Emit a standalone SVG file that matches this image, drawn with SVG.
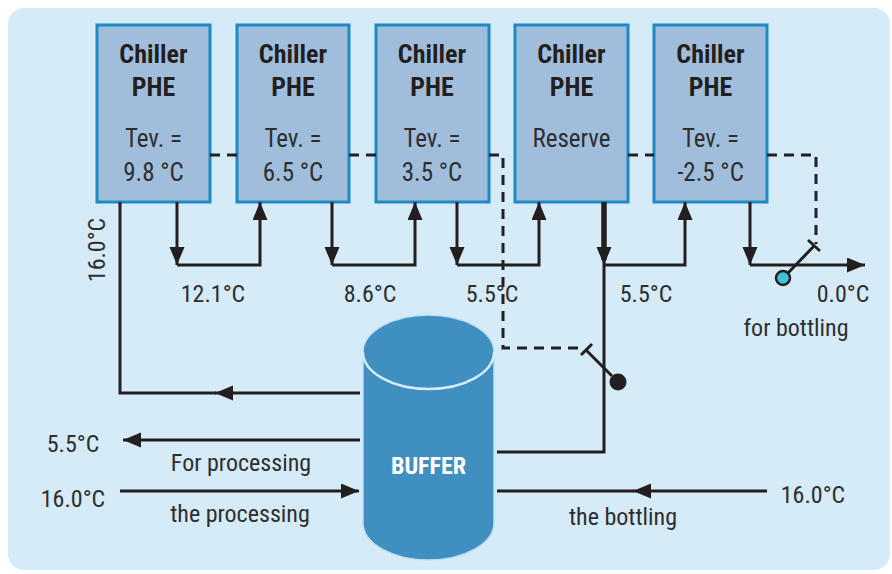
<svg xmlns="http://www.w3.org/2000/svg" width="892" height="574" viewBox="0 0 892 574">
  <style>
    .bg { fill: #d6ebf8; }
    .box { fill: #a0bedc; stroke: #1d8ac4; stroke-width: 3; }
    .t { font-family: "Liberation Sans Narrow", "Roboto Condensed", "DejaVu Sans Condensed", "Liberation Sans", sans-serif; font-stretch: condensed; fill: #2e2e2e; font-size: 24px; }
    .title { font-weight: bold; font-size: 26px; fill: #231f20; text-anchor: middle; }
    .sub { font-size: 25px; text-anchor: middle; }
    .mid { text-anchor: middle; }
    .pipe { fill: none; stroke: #231f20; stroke-width: 3; }
    .thick { fill: none; stroke: #231f20; stroke-width: 5.5; }
    .ctrl { fill: none; stroke: #231f20; stroke-width: 3; stroke-dasharray: 10 7; }
  </style>
  <defs>
    <marker id="arrow" markerUnits="userSpaceOnUse" markerWidth="20" markerHeight="16" refX="18" refY="7.5" orient="auto">
      <path d="M0,0 L18,7.5 L0,15 z" fill="#231f20"/>
    </marker>
  </defs>

  <!-- panel background -->
  <rect class="bg" x="8" y="8" width="882" height="562" rx="16"/>

  <!-- chiller plate heat exchangers -->
  <g id="chiller1">
    <rect class="box" x="97" y="25" width="113" height="177"/>
    <text class="t title" x="153.5" y="63">Chiller</text>
    <text class="t title" x="153.5" y="96">PHE</text>
    <text class="t sub" x="153.5" y="147">Tev. =</text>
    <text class="t sub" x="153.5" y="181">9.8 °C</text>
  </g>
  <g id="chiller2">
    <rect class="box" x="237" y="25" width="112" height="177"/>
    <text class="t title" x="293" y="63">Chiller</text>
    <text class="t title" x="293" y="96">PHE</text>
    <text class="t sub" x="293" y="147">Tev. =</text>
    <text class="t sub" x="293" y="181">6.5 °C</text>
  </g>
  <g id="chiller3">
    <rect class="box" x="376" y="25" width="113" height="177"/>
    <text class="t title" x="432" y="63">Chiller</text>
    <text class="t title" x="432" y="96">PHE</text>
    <text class="t sub" x="432" y="147">Tev. =</text>
    <text class="t sub" x="432" y="181">3.5 °C</text>
  </g>
  <g id="chiller4">
    <rect class="box" x="515" y="25" width="113" height="177"/>
    <text class="t title" x="571.5" y="63">Chiller</text>
    <text class="t title" x="571.5" y="96">PHE</text>
    <text class="t sub" x="571.5" y="147">Reserve</text>
  </g>
  <g id="chiller5">
    <rect class="box" x="654" y="25" width="113" height="177"/>
    <text class="t title" x="710.5" y="63">Chiller</text>
    <text class="t title" x="710.5" y="96">PHE</text>
    <text class="t sub" x="710.5" y="147">Tev. =</text>
    <text class="t sub" x="710.5" y="181">-2.5 °C</text>
  </g>

  <!-- buffer tank -->
  <g id="buffer">
    <path d="M363,352 A65.5,37 0 0 1 494,352 L494,523 A65.5,37 0 0 1 363,523 Z" fill="#3f8fc1" stroke="#bfe0f2" stroke-width="1.5"/>
    <path d="M363,352 A65.5,37 0 0 0 494,352" fill="none" stroke="#d6ecf8" stroke-width="2.5"/>
    <text class="t" x="428.5" y="474" text-anchor="middle" font-weight="bold" font-size="25" fill="#ffffff" style="fill:#ffffff">BUFFER</text>
  </g>

  <!-- pipework and control lines -->
  <g id="connectors">
    <!-- control signals (dashed) -->
    <path class="ctrl" d="M210,155 H237"/>
    <path class="ctrl" d="M349,155 H376"/>
    <path class="ctrl" d="M489,155 H503 V348 H584"/>
    <path class="ctrl" d="M628,155 H654"/>
    <path class="ctrl" d="M767,155 H816 V244"/>

    <!-- valve on the buffer feed -->
    <path class="pipe" d="M586,350 L612,376"/>
    <path class="pipe" d="M581,355 L592,344"/>
    <circle cx="618" cy="382" r="8.5" fill="#231f20"/>

    <!-- valve on the bottling outlet -->
    <path class="pipe" d="M814,246 L788,273"/>
    <path class="pipe" d="M808,240 L820,251"/>

    <!-- stage to stage -->
    <path class="pipe" d="M177,202 V265" marker-end="url(#arrow)"/>
    <path class="pipe" d="M177,265 H260 V202" marker-end="url(#arrow)"/>
    <path class="pipe" d="M332,202 V265" marker-end="url(#arrow)"/>
    <path class="pipe" d="M332,265 H415 V202" marker-end="url(#arrow)"/>
    <path class="pipe" d="M457,202 V265" marker-end="url(#arrow)"/>
    <path class="pipe" d="M457,265 H539 V202" marker-end="url(#arrow)"/>
    <path class="thick" d="M604,202 V260"/>
    <path class="pipe" d="M604,230 V265" marker-end="url(#arrow)"/>
    <path class="pipe" d="M604,265 V452 H497"/>
    <path class="pipe" d="M604,265 H685 V202" marker-end="url(#arrow)"/>
    <path class="pipe" d="M750,202 V265" marker-end="url(#arrow)"/>
    <path class="pipe" d="M750,265 H865" marker-end="url(#arrow)"/>

    <!-- buffer return to first stage -->
    <path class="pipe" d="M360,393 H215" marker-end="url(#arrow)"/>
    <path class="pipe" d="M216,393 H120 V202"/>

    <!-- processing lines -->
    <path class="pipe" d="M360,440 H123" marker-end="url(#arrow)"/>
    <path class="pipe" d="M120,491 H359" marker-end="url(#arrow)"/>

    <!-- bottling return -->
    <path class="pipe" d="M767,491 H633" marker-end="url(#arrow)"/>
    <path class="pipe" d="M634,491 H497"/>
  </g>

  <circle cx="783" cy="278" r="7" fill="#3fc2d8" stroke="#231f20" stroke-width="2.5"/>

  <!-- temperatures and flow labels -->
  <g id="labels">
    <text class="t mid" transform="translate(105,250) rotate(-90)">16.0°C</text>
    <text class="t mid" x="213" y="302">12.1°C</text>
    <text class="t mid" x="370" y="302">8.6°C</text>
    <text class="t mid" x="492" y="302">5.5°C</text>
    <text class="t mid" x="646" y="302">5.5°C</text>
    <text class="t mid" x="843" y="302">0.0°C</text>
    <text class="t mid" x="796" y="336">for bottling</text>
    <text class="t mid" x="73" y="452">5.5°C</text>
    <text class="t mid" x="241" y="471">For processing</text>
    <text class="t mid" x="73" y="507">16.0°C</text>
    <text class="t mid" x="240" y="522">the processing</text>
    <text class="t mid" x="813" y="503">16.0°C</text>
    <text class="t mid" x="623" y="525">the bottling</text>
  </g>
</svg>
